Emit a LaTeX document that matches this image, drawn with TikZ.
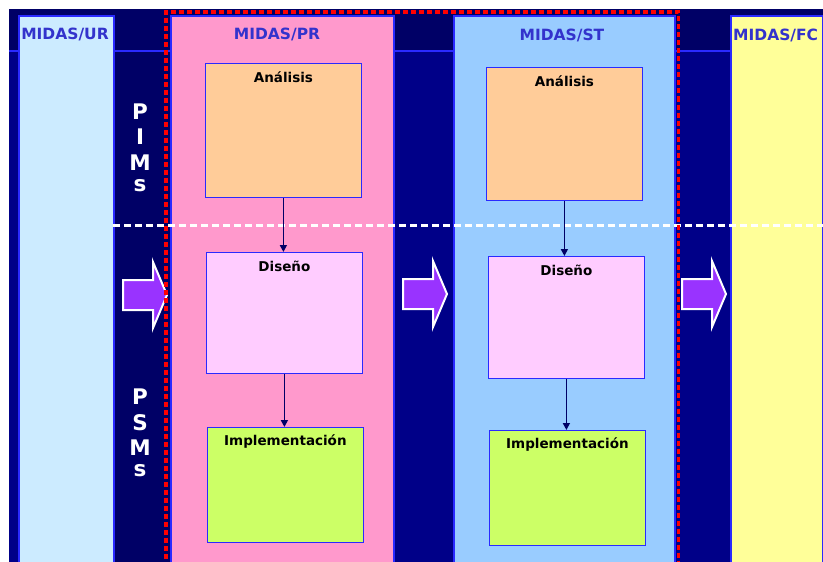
\documentclass[tikz,border=0pt]{standalone}
\usepackage{fontspec}
\setmainfont{DejaVu Sans}
\usetikzlibrary{arrows.meta}

\definecolor{bgtop}{HTML}{000066}
\definecolor{bgbody}{HTML}{000088}
\definecolor{colline}{HTML}{2A2AFF}
\definecolor{headtext}{HTML}{3333CC}
\definecolor{urfill}{HTML}{CCEBFF}
\definecolor{prfill}{HTML}{FF99CC}
\definecolor{stfill}{HTML}{99CCFF}
\definecolor{fcfill}{HTML}{FFFF99}
\definecolor{anafill}{HTML}{FFCC99}
\definecolor{disfill}{HTML}{FFCCFF}
\definecolor{impfill}{HTML}{CCFF66}
\definecolor{arrowfill}{HTML}{9933FF}
\definecolor{flowline}{HTML}{000066}

\tikzset{
  colbox/.style={draw=colline, line width=2pt, anchor=north west, inner sep=0pt},
  stagebox/.style={draw=colline, line width=0.8pt, anchor=north west, inner sep=0pt,
    minimum width=156pt},
  header/.style={text=headtext, font=\fontsize{15.5}{17}\selectfont\bfseries, inner sep=0pt},
  stagelabel/.style={text=black, font=\fontsize{13.5}{15}\selectfont\bfseries, inner sep=0pt, anchor=north},
  vletter/.style={text=white, font=\fontsize{21.5}{23}\selectfont\bfseries, inner sep=0pt},
  flow/.style={draw=flowline, line width=1.6pt, -{Triangle[length=7pt,width=7pt]}},
  bigarrow/.pic={
    \draw[fill=arrowfill, draw=white, line width=2pt, line join=miter]
      (0,-15) -- (30,-15) -- (30,-33) -- (44,0) -- (30,33) -- (30,15) -- (0,15) -- cycle;
  }
}

\begin{document}
\begin{tikzpicture}[x=1pt, y=-1pt]
  \useasboundingbox (0,0) rectangle (823,562);
  \clip (0,0) rectangle (823,562);

  % backdrop: header band, body, and the darker PIM/PSM strip
  \fill[white] (0,0) rectangle (823,562);
  \fill[bgbody] (9,9) rectangle (823,562);
  \fill[bgtop] (9,9) rectangle (823,51);
  \fill[bgtop] (113,51) rectangle (170,562);
  \draw[colline, line width=1.5pt] (9,51) -- (823,51);

  % the four MIDAS columns
  \node[colbox, fill=urfill, minimum width=95pt, minimum height=560pt] (ur) at (18,15) {};
  \node[colbox, fill=prfill, minimum width=223pt, minimum height=560pt] (pr) at (170,15) {};
  \node[colbox, fill=stfill, minimum width=221pt, minimum height=560pt] (st) at (453,15) {};
  \node[colbox, fill=fcfill, minimum width=92pt, minimum height=560pt] (fc) at (730,15) {};

  \node[header] (urt) at (65,34) {MIDAS/UR};
  \node[header] (prt) at (277,34) {MIDAS/PR};
  \node[header] (stt) at (562,35) {MIDAS/ST};
  \node[header, anchor=west] (fct) at (733,35) {MIDAS/FC};

  % PR stages
  \node[stagebox, fill=anafill, minimum height=134pt] (pra) at (205,63) {};
  \node[stagebox, fill=disfill, minimum height=121pt] (prd) at (206,252) {};
  \node[stagebox, fill=impfill, minimum height=115pt] (pri) at (207,427) {};
  \node[stagelabel] (prat) at ([yshift=-9pt]pra.north) {Análisis};
  \node[stagelabel] (prdt) at ([yshift=-9pt]prd.north) {Diseño};
  \node[stagelabel] (prit) at ([yshift=-7pt]pri.north) {Implementación};

  % ST stages
  \node[stagebox, fill=anafill, minimum height=133pt] (sta) at (486,67) {};
  \node[stagebox, fill=disfill, minimum height=122pt] (std) at (488,256) {};
  \node[stagebox, fill=impfill, minimum height=115pt] (sti) at (489,430) {};
  \node[stagelabel] (statt) at ([yshift=-9pt]sta.north) {Análisis};
  \node[stagelabel] (stdt) at ([yshift=-9pt]std.north) {Diseño};
  \node[stagelabel] (stit) at ([yshift=-7pt]sti.north) {Implementación};

  % PIM / PSM boundary
  \draw[white, line width=3pt, dash pattern=on 7pt off 4pt] (113,225) -- (823,225);

  % refinement flow inside each column
  \draw[flow] (pra.south) -- (pra.south |- prd.north);
  \draw[flow] (prd.south) -- (prd.south |- pri.north);
  \draw[flow] (sta.south) -- (sta.south |- std.north);
  \draw[flow] (std.south) -- (std.south |- sti.north);

  % PIMs / PSMs vertical captions
  \node[vletter] (p1) at (140,112) {P};
  \node[vletter] (i1) at (140,137) {I};
  \node[vletter] (m1) at (140,163) {M};
  \node[vletter] (s1) at (140,186) {s};
  \node[vletter] (p2) at (140,397) {P};
  \node[vletter] (s2) at (140,423) {S};
  \node[vletter] (m2) at (140,448) {M};
  \node[vletter] (s3) at (140,471) {s};

  % transitions between columns
  \pic at (123,295) {bigarrow};
  \pic at (403,294) {bigarrow};
  \pic at (682,294) {bigarrow};

  % PR + ST grouping
  \draw[red, line width=3.5pt, dash pattern=on 5pt off 3pt] (166,575) -- (166,12) -- (678.5,12) -- (678.5,575);
\end{tikzpicture}
\end{document}
